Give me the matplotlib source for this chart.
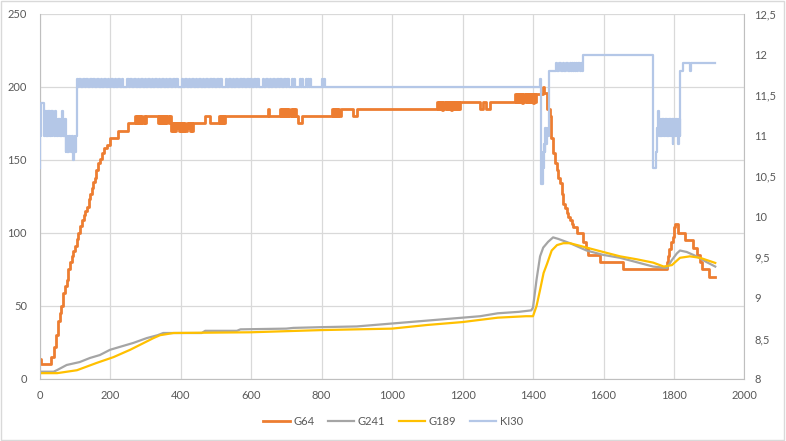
import numpy as np
import matplotlib.pyplot as plt
from matplotlib.patches import Rectangle

plt.rcParams['font.family'] = ['Lato', 'DejaVu Sans']

# ---- G64 (left axis), step breakpoints ----
g64_x = [0, 3, 32, 40, 46, 52, 58, 62, 67, 72, 77, 82, 87, 91, 96, 101, 106, 110, 115,
         120, 125, 129, 134, 139, 144, 148, 153, 157, 161, 165, 171, 177, 184, 191, 200,
         223, 251, 301, 434, 470, 484, 527, 648, 652, 727, 734, 745, 854, 890, 900,
         1194, 1250, 1258, 1268, 1278, 1411, 1428, 1432, 1440, 1448, 1452, 1457, 1462,
         1468, 1472, 1477, 1482, 1486, 1491, 1496, 1500, 1505, 1510, 1514, 1524, 1542,
         1549, 1556, 1590, 1655, 1780, 1783, 1787, 1792, 1797, 1800, 1803, 1810, 1832,
         1855, 1865, 1875, 1880, 1900, 1917]
g64_y = [14, 10, 15, 22, 30, 40, 45, 50, 59, 64, 68, 75, 80, 84, 88, 91, 96, 100, 105,
         109, 112, 115, 118, 123, 127, 131, 135, 138, 143, 148, 151, 155, 158, 160, 165,
         170, 175, 180, 175, 180, 175, 180, 185, 180, 180, 175, 180, 185, 180, 185,
         190, 185, 190, 185, 190, 195, 200, 196, 185, 180, 165, 155, 148,
         143, 138, 134, 127, 120, 117, 114, 111, 109, 106, 104, 100, 94,
         90, 85, 80, 75, 80, 84, 89, 94, 97, 104, 106, 100, 95,
         90, 85, 80, 75, 70, 70]
# jittery stretches of G64: (start x, x step, values)
g64_jitter_a = [180, 175, 180, 175, 180, 175, 180, 175, 180, 175]
g64_jitter_b = [175, 180, 175, 180, 175, 180, 175, 180, 175, 180, 175, 180]
g64_jitter_c = [170, 175, 170, 175, 170, 175, 172, 175, 170, 175, 170, 175, 170, 175,
                170, 175, 172, 175, 170, 175, 170]
g64_jitter_d = [180, 175, 180, 175, 180, 175]
g64_jitter_e = [185, 180, 185, 180, 185, 180, 185, 180, 185, 180, 185, 180, 185, 180, 185]
g64_jitter_f = [185, 180, 185, 180, 185, 180, 185, 180]
g64_jitter_g = [190, 185, 190, 185, 190, 184, 190, 185, 190, 185, 190, 185, 190, 184,
                190, 185, 190, 185, 190, 185, 190, 185]
g64_jitter_h = [195, 190, 195, 190, 195, 190, 195, 189, 195, 190, 195, 190, 195, 190,
                195, 190, 195, 189, 195, 190, 195]
g64_bands = [(271, 3, g64_jitter_a), (336, 3, g64_jitter_b), (372, 3, g64_jitter_c),
             (509, 3, g64_jitter_d), (682, 3, g64_jitter_e), (830, 3, g64_jitter_f),
             (1128, 3, g64_jitter_g), (1349, 3, g64_jitter_h)]

# ---- G241 (left axis) ----
g241_x = [0, 40, 49, 77, 114, 143, 171, 200, 228, 266, 304, 335, 351, 460, 470, 560, 570,
          700, 720, 800, 900, 950, 1000, 1100, 1200, 1250, 1300, 1360, 1395, 1400, 1410,
          1420, 1429, 1443, 1457, 1471, 1505, 1552, 1599, 1647, 1694, 1741, 1780, 1794,
          1808, 1817, 1836, 1864, 1893, 1917]
g241_y = [5, 5, 6, 9.6, 11.6, 14.4, 16.4, 20, 22, 24.7, 28, 30, 31.5, 31.5, 33, 33, 34,
          34.5, 35, 35.5, 36, 37, 38, 40, 42, 43, 45, 46, 47, 49, 68,
          84, 90, 94, 97, 96, 93, 88, 85, 83, 80, 77, 76, 81.5,
          86, 88, 87, 84, 80, 77]

# ---- G189 (left axis) ----
g189_x = [0, 50, 106, 162, 210, 257, 295, 323, 342, 380, 600, 800, 1000, 1100, 1200,
          1300, 1380, 1400, 1410, 1420, 1430, 1440, 1453, 1468, 1486, 1505, 1552, 1599,
          1647, 1694, 1741, 1771, 1794, 1817, 1845, 1874, 1917]
g189_y = [4, 4, 6, 11, 15, 20, 24.6, 28, 30, 31.5, 32, 33.5, 34.5, 37, 39,
          42, 43, 43, 50, 61, 72.6, 79, 88, 91.7, 93, 93, 90, 87,
          84, 82, 79.7, 77, 78, 83, 84, 83, 79.5]

# ---- KI30 (right axis), step breakpoints ----
ki30_x = [0, 2, 4, 12, 106,
          716, 719, 722, 725, 739, 742, 745, 748, 756, 759, 762, 765, 768, 771,
          801, 804, 807, 810,
          1420, 1423, 1427, 1429, 1431, 1433, 1435, 1437, 1439, 1441, 1444,
          1466, 1469, 1475, 1478, 1484, 1487, 1495, 1498, 1541, 1543,
          1741, 1749, 1753, 1755, 1758, 1818, 1826, 1845, 1848, 1917]
ki30_y = [10.6, 11.0, 11.4, 11.3, 11.7,
          11.7, 11.6, 11.7, 11.6, 11.7, 11.6, 11.7, 11.6, 11.7, 11.6, 11.7, 11.6, 11.7, 11.6,
          11.7, 11.6, 11.7, 11.6,
          11.7, 10.4, 10.8, 10.6, 10.9, 10.8, 11.1, 10.9, 11.1, 11.0, 11.8,
          11.9, 11.8, 11.9, 11.8, 11.9, 11.8, 11.9, 11.8, 11.8, 12.0,
          10.6, 10.8, 11.1, 11.3, 11.0, 11.8, 11.9, 11.8, 11.9, 11.9]
ki30_jitter_a = [11.0, 11.3, 11.0, 11.3, 11.0, 11.3, 11.0, 11.3, 11.0, 11.3, 11.0, 11.3,
                 11.1, 11.2, 11.0, 11.3, 11.0, 11.2, 11.0, 11.2, 11.0, 11.2, 11.0, 11.2,
                 11.0, 11.3, 11.0, 11.2, 11.0, 11.2]
ki30_jitter_b = [10.8, 11.0, 10.8, 11.0, 10.8, 11.0, 10.9, 11.0, 10.8, 11.0, 10.8, 10.7,
                 10.8, 11.0, 10.8, 11.0]
ki30_jitter_c = [11.6, 11.7, 11.6, 11.7, 11.6, 11.7, 11.6, 11.7, 11.6, 11.7, 11.6,
                 11.7, 11.6, 11.7, 11.6, 11.7, 11.6, 11.7, 11.6, 11.7, 11.6, 11.7,
                 11.6, 11.7, 11.6, 11.7, 11.6, 11.6, 11.7, 11.6, 11.7, 11.6, 11.7,
                 11.6, 11.7, 11.6, 11.7, 11.6, 11.7, 11.6, 11.7, 11.6, 11.7, 11.6,
                 11.7, 11.6, 11.7, 11.6, 11.7, 11.6, 11.7, 11.6, 11.7, 11.6, 11.7,
                 11.6, 11.7, 11.6, 11.6, 11.7, 11.6, 11.7, 11.6, 11.7, 11.6, 11.7,
                 11.6, 11.7, 11.6, 11.7, 11.6, 11.7, 11.6, 11.7, 11.6, 11.7, 11.6,
                 11.7, 11.6, 11.7, 11.6, 11.7, 11.6, 11.6, 11.7, 11.6, 11.7, 11.6,
                 11.7, 11.6, 11.7, 11.6, 11.7, 11.6, 11.7, 11.6, 11.7, 11.6, 11.7,
                 11.6, 11.7, 11.6, 11.7, 11.6, 11.6, 11.7, 11.6, 11.7, 11.6, 11.7,
                 11.6, 11.7, 11.6, 11.7, 11.6, 11.7, 11.6, 11.7, 11.6, 11.7, 11.6]
ki30_jitter_d = [11.9, 11.8, 11.9, 11.8, 11.9, 11.8, 11.9, 11.8, 11.9, 11.8, 11.9, 11.8]
ki30_jitter_e = [11.0, 11.2, 11.0, 11.2, 11.0, 11.2, 11.0, 11.2, 11.0, 11.2, 11.0, 11.2,
                 11.0, 11.2, 11.0, 11.2, 11.0, 11.2, 10.9, 11.2, 11.0, 11.2, 11.0, 11.2,
                 11.0, 11.2, 10.9, 11.2, 11.0]
ki30_bands = [(14, 2, ki30_jitter_a), (74, 2, ki30_jitter_b), (108, 5, ki30_jitter_c),
              (1505, 3, ki30_jitter_d), (1760, 2, ki30_jitter_e)]

x_ticks = np.arange(0, 2001, 200)
left_ticks = np.arange(0, 251, 50)
right_ticks = np.arange(8, 12.51, 0.5)


def with_bands(base_x, base_y, bands):
    xs, ys = list(base_x), list(base_y)
    for x0, dx, vals in bands:
        xs += [x0 + dx * i for i in range(len(vals))]
        ys += list(vals)
    order = np.argsort(xs, kind='stable')
    return np.array(xs)[order], np.array(ys)[order]


g64_px, g64_py = with_bands(g64_x, g64_y, g64_bands)
ki_px, ki_py = with_bands(ki30_x, ki30_y, ki30_bands)

txt = '#595959'
grid = '#D9D9D9'

fig = plt.figure(figsize=(7.86, 4.41), dpi=100)
ax = fig.add_axes([0.0503, 0.1406, 0.8969, 0.8277])
ax2 = ax.twinx()

l1, = ax.plot(g64_px, g64_py, drawstyle='steps-post', color='#ED7D31', lw=2.0, label='G64')
l2, = ax.plot(g241_x, g241_y, color='#A5A5A5', lw=1.6, label='G241')
l3, = ax.plot(g189_x, g189_y, color='#FFC000', lw=1.6, label='G189')
l4, = ax2.plot(ki_px, ki_py, drawstyle='steps-post', color='#B4C7E7', lw=1.6, label='KI30')

ax.set_xlim(0, 2000)
ax.set_ylim(0, 250)
ax2.set_ylim(8, 12.5)
ax.set_xticks(x_ticks)
ax.set_yticks(left_ticks)
ax2.set_yticks(right_ticks)
ax2.set_yticklabels([('%g' % v).replace('.', ',') for v in right_ticks])

ax.grid(True, color=grid, lw=0.9)
ax.set_axisbelow(True)
for a in (ax, ax2):
    for s in a.spines.values():
        s.set_visible(False)
ax.spines['left'].set_visible(True)
ax.spines['bottom'].set_visible(True)
ax.spines['left'].set_color('#BFBFBF')
ax.spines['bottom'].set_color('#BFBFBF')
ax2.spines['right'].set_visible(True)
ax2.spines['right'].set_color('#BFBFBF')

ax.tick_params(axis='both', length=0, labelsize=8, labelcolor=txt)
ax.tick_params(axis='y', pad=9)
ax.tick_params(axis='x', pad=8)
ax2.tick_params(axis='y', length=0, labelsize=8, labelcolor=txt, pad=7)

fig.legend(handles=[l1, l2, l3, l4], loc='center', bbox_to_anchor=(0.5, 0.045), ncol=4,
           frameon=False, fontsize=8, labelcolor=txt, handlelength=2.4, columnspacing=1.2,
           handletextpad=0.3)

fig.patches.append(Rectangle((0.001, 0.003), 0.997, 0.995, transform=fig.transFigure,
                             fill=False, edgecolor=grid, lw=1))

fig.savefig('out.png', dpi=100)
